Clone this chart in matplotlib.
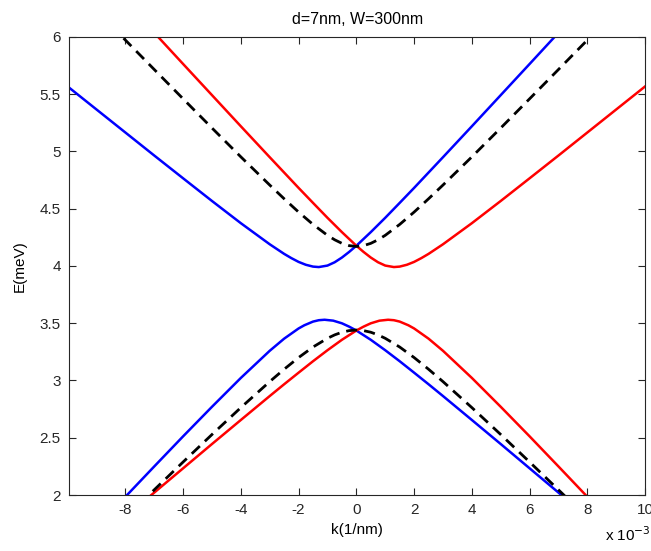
import matplotlib.pyplot as plt

# wave vector in units of 1e-3 1/nm, energies in meV
k_blue_up = [-9.95, -9, -8, -7, -6, -5, -4, -3, -2.5, -2.25, -2, -1.75, -1.5, -1.3, -1, -0.75, -0.5, -0.25, 0,
             0.5, 1, 1.5, 2, 2.5, 3, 4, 5, 6, 7]
e_blue_up = [5.557, 5.366, 5.165, 4.964, 4.765, 4.567, 4.373, 4.189, 4.105, 4.068, 4.035, 4.010, 3.994, 3.99, 4.003,
             4.032, 4.073, 4.122, 4.176, 4.295, 4.420, 4.550, 4.681, 4.815, 4.949, 5.219, 5.491, 5.763, 6.036]

k_red_up = [-7, -6, -5, -4, -3, -2.5, -2, -1.5, -1, -0.5, 0, 0.25, 0.5, 0.75, 1, 1.3, 1.5, 1.75, 2, 2.25, 2.5,
            3, 4, 5, 6, 7, 8, 9, 10]
e_red_up = [6.036, 5.763, 5.491, 5.219, 4.949, 4.815, 4.681, 4.550, 4.420, 4.295, 4.176, 4.122, 4.073, 4.032, 4.003,
            3.99, 3.994, 4.010, 4.035, 4.068, 4.105, 4.189, 4.373, 4.567, 4.765, 4.964, 5.165, 5.366, 5.567]

k_avg_up = [-8.5, -8, -7, -6, -5, -4, -3, -2.5, -2, -1.5, -1, -0.75, -0.5, -0.25, 0, 0.25, 0.5, 0.75, 1, 1.5, 2,
            2.5, 3, 4, 5, 6, 7, 8, 8.5]
e_avg_up = [6.100, 5.972, 5.715, 5.459, 5.204, 4.952, 4.706, 4.586, 4.470, 4.362, 4.267, 4.228, 4.197, 4.177, 4.17,
            4.177, 4.197, 4.228, 4.267, 4.362, 4.470, 4.586, 4.706, 4.952, 5.204, 5.459, 5.715, 5.972, 6.100]

k_blue_lo = [-8, -7, -6, -5, -4, -3, -2.5, -2, -1.8, -1.5, -1.3, -1.1, -0.8, -0.5, -0.25, 0, 0.5, 1, 1.5, 2, 2.5,
             3, 4, 5, 6, 7, 7.5]
e_blue_lo = [1.984, 2.249, 2.512, 2.770, 3.022, 3.259, 3.365, 3.454, 3.482, 3.514, 3.526, 3.53, 3.522, 3.499, 3.470,
             3.436, 3.355, 3.264, 3.168, 3.068, 2.967, 2.864, 2.655, 2.445, 2.233, 2.021, 1.914]

k_red_lo = [-7.5, -7, -6, -5, -4, -3, -2.5, -2, -1.5, -1, -0.5, 0, 0.25, 0.5, 0.8, 1.1, 1.3, 1.5, 1.8, 2, 2.5,
            3, 4, 5, 6, 7, 8]
e_red_lo = [1.914, 2.021, 2.233, 2.445, 2.655, 2.864, 2.967, 3.068, 3.168, 3.264, 3.355, 3.436, 3.470, 3.499, 3.522,
            3.53, 3.526, 3.514, 3.482, 3.454, 3.365, 3.259, 3.022, 2.770, 2.512, 2.249, 1.984]

k_avg_lo = [-7.5, -7, -6, -5, -4, -3, -2.5, -2, -1.5, -1, -0.75, -0.5, -0.25, 0, 0.25, 0.5, 0.75, 1, 1.5, 2, 2.5,
            3, 4, 5, 6, 7, 7.5]
e_avg_lo = [1.923, 2.045, 2.288, 2.528, 2.763, 2.990, 3.098, 3.200, 3.292, 3.368, 3.398, 3.421, 3.435, 3.44, 3.435,
            3.421, 3.398, 3.368, 3.292, 3.200, 3.098, 2.990, 2.763, 2.528, 2.288, 2.045, 1.923]

x_ticks = [-8, -6, -4, -2, 0, 2, 4, 6, 8, 10]
y_ticks = [2, 2.5, 3, 3.5, 4, 4.5, 5, 5.5, 6]

plt.rcParams['font.family'] = ['Liberation Sans', 'DejaVu Sans']

fig = plt.figure(figsize=(6.51, 5.51), dpi=100)
ax = fig.add_axes([0.106, 0.1016, 0.885, 0.8316])

ax.plot(k_blue_up, e_blue_up, color='blue', lw=1.8)
ax.plot(k_red_up, e_red_up, color='red', lw=1.8)
ax.plot(k_avg_up, e_avg_up, color='black', lw=2, ls=(0, (4, 2.5)))
ax.plot(k_blue_lo, e_blue_lo, color='blue', lw=1.8)
ax.plot(k_red_lo, e_red_lo, color='red', lw=1.8)
ax.plot(k_avg_lo, e_avg_lo, color='black', lw=2, ls=(0, (4, 2.5)))

ax.set_xlim(-9.95, 10)
ax.set_ylim(2, 6)
ax.set_xticks(x_ticks)
ax.set_xticklabels([str(t) for t in x_ticks])
ax.set_yticks(y_ticks)
ax.set_yticklabels(['%g' % t for t in y_ticks])

ax.tick_params(direction='in', top=True, right=True, length=5, width=0.8,
               labelsize=11, colors='#262626', pad=6)
for s in ax.spines.values():
    s.set_color('#262626')
    s.set_linewidth(0.8)

ax.set_title('d=7nm, W=300nm', fontsize=11.5, pad=9)
ax.set_xlabel('k(1/nm)', fontsize=11, labelpad=4)
ax.set_ylabel('E(meV)', fontsize=11, labelpad=9)
fig.text(0.93, 0.012, r'x 10$^{-3}$', fontsize=11, ha='left', va='bottom')

plt.savefig('out.png', dpi=100)
